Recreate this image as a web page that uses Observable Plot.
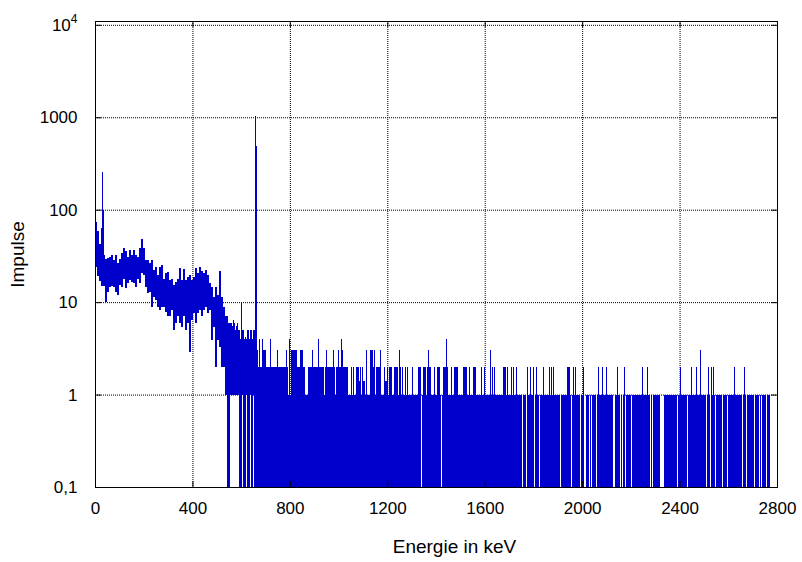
<!DOCTYPE html>
<html><head><meta charset="utf-8">
<script src="https://cdn.jsdelivr.net/npm/d3@7"></script>
<script src="https://cdn.jsdelivr.net/npm/@observablehq/plot@0.6"></script>
<style>body{margin:0;background:#fff}#chart{width:802px;height:562px}</style>
</head><body><div id="chart"></div>
<script>
// ---- axis texts ----
const xTicks = [0, 400, 800, 1200, 1600, 2000, 2400, 2800];
const yTicks = [0.1, 1, 10, 100, 1000, 10000];
const yTickLabels = ["0,1", "1", "10", "100", "1000", "10⁴"];
const xTitle = "Energie in keV";
const yTitle = "Impulse";

// ---- spectrum calibration (keV per channel) ----
const channelKeV = 4.106;

// low-energy region, counts per pair of channels (channels 0..129): max and min reached
const lowMax = [74, 59, 43, 63, 32, 29, 30, 31, 32, 28.6, 32, 26.4, 29.6, 33.8, 38.3, 35.3, 31, 36.7, 32, 36.7,
  32, 31, 38.3, 48, 38.3, 28.6, 28.6, 26.4, 28.6, 22.5, 24.2, 19.6, 24.2, 25.4, 18, 20.5, 21.4, 17.4, 18, 15.4,
  16.6, 18, 23.4, 17.4, 22.8, 17.4, 18.9, 19.6, 17.4, 18.9, 23.4, 20.5, 24.2, 21.5, 20.5, 22.2, 19.6, 16.1, 14.7, 11.4,
  14.7, 12, 21.5, 11.4, 8.9];
const lowMin = [24, 19, 17, 15, 15, 10, 13, 14.7, 15, 14.7, 13, 12, 15.4, 14.7, 18, 14.1, 16, 17.4, 16.6, 16,
  14.7, 18, 16, 20.5, 19.6, 14.7, 12.5, 12.9, 8.9, 11.4, 10.6, 8.9, 8.2, 8.9, 8.9, 7.9, 7, 7, 8.2, 5,
  5.9, 7, 5.9, 5.4, 7, 5, 5.9, 2.9, 6.4, 7.6, 5.9, 7.6, 8.2, 7, 8.2, 8.9, 7.6, 8.2, 3.9, 5.4,
  2, 3.9, 3.3, 2, 2];
// single channels: first channel and X-ray lines
const spikeChannels = [0, 7, 8];
const spikeMax = [74, 258, 100];
const spikeMin = [0, 15, 15];
// Compton edge region, single channels 130..159
const midStart = 130;
const midMax = [7, 7, 7, 6, 6, 5.9, 5.9, 5.5, 6.4, 6, 5, 5.5, 5.9, 5, 5, 4, 10, 5, 5, 4, 4.2, 4, 5, 5, 4, 5, 5, 4, 5, 5];
const midMin = [1, 1, 0, 0, 0, 1, 1, 1, 1, 1, 1, 1, 1, 1, 0, 0, 0, 1, 0, 0, 0, 1, 0, 0, 0, 1, 0, 0, 1, 0];
// Cs-137 photopeak
const peakChannels = [160, 161];
const peakCounts = [1030, 490];
// tail: [first channel, last channel, usual maximum]
const tailBands = [[162, 251, 2], [252, 674, 1]];
const tail1 = [193, 195, 210, 211, 212, 229, 240];
const tail14 = [264, 268, 269, 290, 291];
const tail2 = [252, 256, 258, 261, 262, 263, 265, 267, 278, 281, 282, 283, 284, 289, 292, 294, 295, 296, 299, 300,
  301, 302, 305, 307, 310, 312, 317, 323, 324, 325, 328, 329, 330, 332, 334, 335, 339, 342, 343, 344, 348, 349, 350,
  352, 356, 359, 360, 361, 362, 368, 369, 370, 371, 374, 378, 379, 380, 386, 389, 397, 399, 408, 409, 410, 412, 416,
  418, 421, 432, 435, 438, 441, 448, 454, 456, 458, 472, 473, 474, 478, 480, 488, 503, 507, 511, 522, 529, 547, 552,
  585, 596, 601, 613, 616, 618, 639, 649];
const tail3 = [162, 168, 169, 170, 182, 191, 196, 197, 198, 199, 200, 201, 205, 206, 207, 217, 231, 238, 243, 247,
  271, 275, 276, 277, 279, 285, 304, 333, 395, 605];
const tail4 = [164, 167, 175, 194, 223, 246, 351];
// tail channels whose minimum is 1 (no empty neighbour)
const tailGaps = [326, 346, 427, 431, 439, 444, 465, 476, 485, 489, 490, 494, 496, 501, 518, 519, 525, 527, 530, 536,
  555, 557, 565, 566, 567, 568, 582, 592, 611, 615, 620, 627, 632, 647, 651, 659, 664, 666, 671];

// ---- build table ----
const rows = [];
lowMax.forEach((hi, g) => rows.push({c0: 2 * g, c1: 2 * g + 2, lo: lowMin[g], hi}));
spikeChannels.forEach((c, i) => rows.push({c0: c, c1: c + 1, lo: spikeMin[i], hi: spikeMax[i]}));
midMax.forEach((hi, i) => rows.push({c0: midStart + i, c1: midStart + i + 1, lo: midMin[i], hi}));
peakChannels.forEach((c, i) => rows.push({c0: c, c1: c + 1, lo: 0, hi: peakCounts[i]}));
const overrides = new Map();
[[tail1, 1], [tail14, 1.4], [tail2, 2], [tail3, 3], [tail4, 4]].forEach(([list, v]) => list.forEach(c => overrides.set(c, v)));
const gapSet = new Set(tailGaps);
for (const [a, b, level] of tailBands)
  for (let c = a; c <= b; c++)
    rows.push({c0: c, c1: c + 1, lo: gapSet.has(c) ? 1 : 0, hi: overrides.has(c) ? overrides.get(c) : level});

const yMin = 0.1, yMax = 11000, xMin = 0, xMax = 2800;
const blue = "#0000cd";
const tickLen = 6, plotW = 682, plotH = 466;
const plot = Plot.plot({
  width: 802, height: 562,
  marginLeft: 95, marginRight: 25, marginTop: 21, marginBottom: 75,
  style: {fontFamily: "'Liberation Sans', Arial, sans-serif", fontSize: "17px", color: "black", background: "white"},
  x: {domain: [xMin, xMax], ticks: xTicks, tickFormat: d => String(d), tickSize: 0, tickPadding: 14, label: null},
  y: {type: "log", domain: [yMin, yMax], ticks: yTicks, tickFormat: d => yTickLabels[yTicks.indexOf(d)], tickSize: 0, tickPadding: 18, label: null},
  marks: [
    Plot.ruleX(xTicks.slice(1, -1), {x: d => d, y1: () => yMax, y2: () => yMin, stroke: "black", strokeDasharray: "1,1"}),
    Plot.ruleY(yTicks.slice(1), {y: d => d, x1: () => xMin, x2: () => xMax, stroke: "black", strokeDasharray: "1,1"}),
    Plot.rectY(rows, {x1: d => d.c0 * channelKeV, x2: d => d.c1 * channelKeV, y1: d => Math.max(d.lo, yMin), y2: "hi",
      fill: blue, inset: 0, shapeRendering: "crispEdges"}),
    Plot.frame({stroke: "black"}),
    Plot.ruleX(xTicks, {x: d => d, y1: () => yMax, y2: () => yMin, insetTop: plotH - tickLen, stroke: "black"}),
    Plot.ruleX(xTicks, {x: d => d, y1: () => yMax, y2: () => yMin, insetBottom: plotH - tickLen, stroke: "black"}),
    Plot.ruleY(yTicks, {y: d => d, x1: () => xMin, x2: () => xMax, insetRight: plotW - tickLen, stroke: "black"}),
    Plot.ruleY(yTicks, {y: d => d, x1: () => xMin, x2: () => xMax, insetLeft: plotW - tickLen, stroke: "black"}),
    Plot.text([xTitle], {text: d => d, frameAnchor: "bottom", dy: 59, dx: 18, fontSize: 19, lineAnchor: "middle", fill: "black"}),
    Plot.text([yTitle], {text: d => d, frameAnchor: "left", dx: -78, rotate: -90, fontSize: 19, textAnchor: "middle", lineAnchor: "middle", fill: "black"})
  ]
});
// superscript exponent on the top tick label
plot.querySelectorAll("text").forEach(t => {
  if (t.textContent === "10⁴") {
    t.textContent = "10";
    const s = document.createElementNS("http://www.w3.org/2000/svg", "tspan");
    s.setAttribute("dy", "-8");
    s.setAttribute("font-size", "12");
    s.textContent = "4";
    t.appendChild(s);
  }
});
document.getElementById("chart").appendChild(plot);
</script></body></html>
